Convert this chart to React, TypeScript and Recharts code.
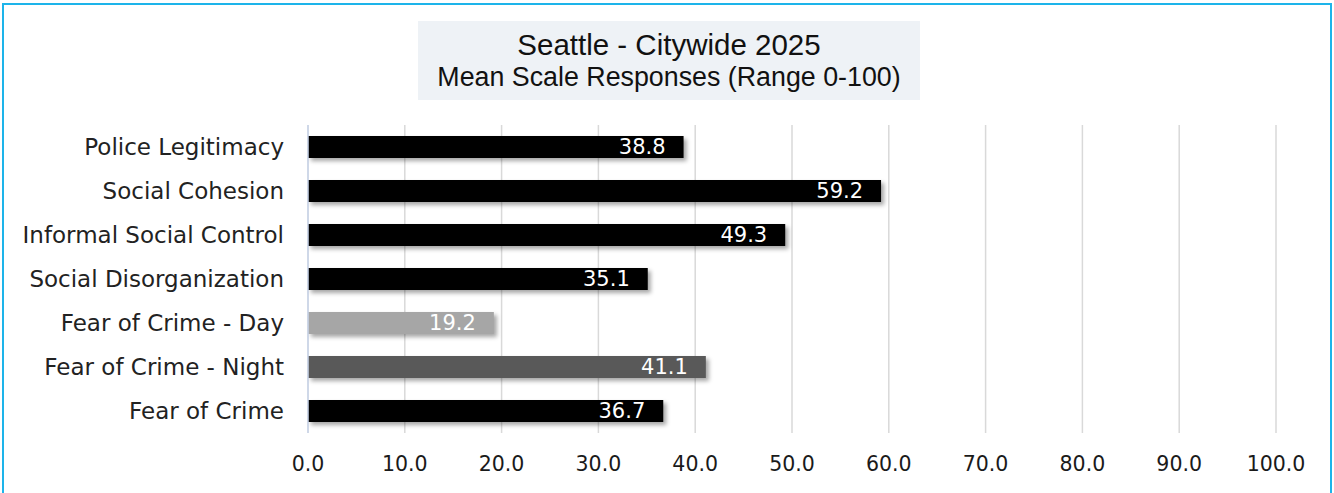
import React from 'react';
import { BarChart, Bar, XAxis, YAxis, CartesianGrid, Cell, LabelList } from 'recharts';

const categories = [
  'Police Legitimacy',
  'Social Cohesion',
  'Informal Social Control',
  'Social Disorganization',
  'Fear of Crime - Day',
  'Fear of Crime - Night',
  'Fear of Crime',
];
const meanScores = [38.8, 59.2, 49.3, 35.1, 19.2, 41.1, 36.7];
const xTicks = [0, 10, 20, 30, 40, 50, 60, 70, 80, 90, 100];

const barColors = ['#000000', '#000000', '#000000', '#000000', '#a6a6a6', '#595959', '#000000'];

const data = categories.map((name, i) => ({ name, value: meanScores[i] }));

const numFont = { fontFamily: '"DejaVu Sans", sans-serif', fontSize: 20.5 };

const App: React.FC = () => {
  return (
    <div style={{ position: 'absolute', left: 0, top: 0, width: 1334, height: 493, background: '#fff', overflow: 'hidden' }}>
      <style>{`.recharts-bar-rectangle path { filter: drop-shadow(3px 3px 2px rgba(0,0,0,0.35)); }`}</style>
      <div
        style={{
          position: 'absolute',
          left: 418,
          top: 21,
          width: 502,
          height: 79,
          background: '#eef2f6',
          fontFamily: '"Liberation Sans", Arial, sans-serif',
          color: '#111',
          textAlign: 'center',
        }}
      >
        <div style={{ fontSize: 29.5, lineHeight: '32px', marginTop: 8 }}>Seattle - Citywide 2025</div>
        <div style={{ fontSize: 26.8, lineHeight: '32px' }}>Mean Scale Responses (Range 0-100)</div>
      </div>
      <div style={{ position: 'absolute', left: 0, top: 0 }}>
        <BarChart
          width={1334}
          height={493}
          layout="vertical"
          data={data}
          margin={{ top: 125, right: 58, bottom: 0, left: 0 }}
          barSize={22}
        >
          <CartesianGrid horizontal={false} stroke="#d9d9d9" strokeWidth={1.5} />
          <XAxis
            type="number"
            domain={[0, 100]}
            ticks={xTicks}
            tickFormatter={(v: number) => v.toFixed(1)}
            axisLine={false}
            tickLine={false}
            tickSize={6}
            tickMargin={17}
            height={60}
            tick={{ ...numFont, fill: '#1a1a1a' }}
          />
          <YAxis
            type="category"
            dataKey="name"
            width={308}
            axisLine={{ stroke: '#c8d4ea', strokeWidth: 1.5 }}
            tickLine={false}
            tickSize={6}
            tickMargin={18}
            tick={{ fontFamily: '"DejaVu Sans", sans-serif', fontSize: 23, fill: '#222222' }}
          />
          <Bar dataKey="value" fill="#000000" isAnimationActive={false}>
            {data.map((d, i) => (
              <Cell key={d.name} fill={barColors[i]} />
            ))}
            <LabelList
              dataKey="value"
              position="insideRight"
              offset={18}
              formatter={(v: any) => Number(v).toFixed(1)}
              style={{ ...numFont, fontSize: 21, fill: '#ffffff' }}
            />
          </Bar>
        </BarChart>
      </div>
      <div
        style={{
          position: 'absolute',
          left: 2,
          top: 3,
          width: 1330,
          height: 500,
          border: '2px solid #1db4ea',
          boxSizing: 'border-box',
          pointerEvents: 'none',
        }}
      />
    </div>
  );
};

export default App;
